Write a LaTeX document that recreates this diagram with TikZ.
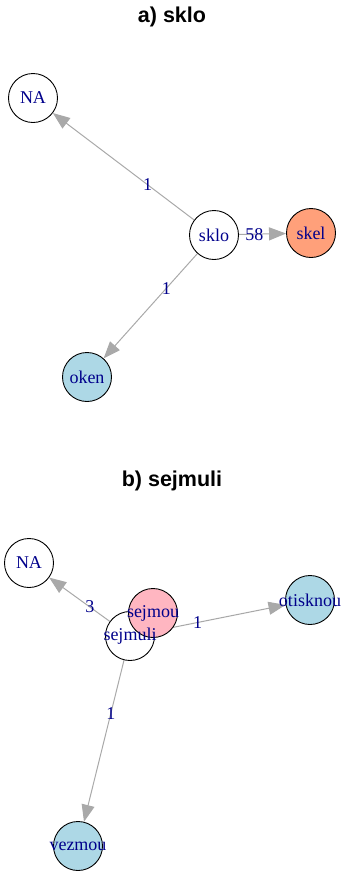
\documentclass[tikz,border=0pt]{standalone}
\usepackage{fontspec}
\setmainfont{Liberation Serif}
\newfontfamily\titlefont{Liberation Sans}
\usetikzlibrary{arrows.meta}

\definecolor{darkblue}{HTML}{00008B}
\definecolor{edgegray}{HTML}{A9A9A9}
\definecolor{lightsalmon}{HTML}{FFA07A}
\definecolor{lightblue}{HTML}{ADD8E6}
\definecolor{lightpink}{HTML}{FFB6C1}

\pgfdeclarelayer{bg}
\pgfsetlayers{bg,main}

\tikzset{
  vertex/.style={shape=circle, draw=black, line width=0.9pt, minimum size=49pt, inner sep=0pt},
  vtext/.style={text=darkblue, font=\fontsize{18}{18}\selectfont, inner sep=0pt},
  link/.style={color=edgegray, line width=1pt, -{Triangle[length=17pt,width=13pt]}},
  elabel/.style={text=darkblue, font=\fontsize{18}{18}\selectfont, inner sep=0pt, pos=0.33},
  heading/.style={font=\titlefont\bfseries\fontsize{21.5}{21.5}\selectfont}
}

\begin{document}
\begin{tikzpicture}[x=1pt, y=-1pt]
      \useasboundingbox (0,0) rectangle (343,871);

      % a) sklo
      \node[heading] (ta) at (172,17) {a) sklo};
      \node[vertex] (na1) at (33,98) {};
      \node[vertex] (sklo) at (214,235) {};
      \node[vertex, fill=lightsalmon] (skel) at (311,233) {};
      \node[vertex, fill=lightblue] (oken) at (87,377) {};

      \begin{pgfonlayer}{bg}
      \draw [link] (sklo) -- node[elabel] {1} (na1);
      \draw [link] (sklo) -- node[elabel] {58} (skel);
      \draw [link] (sklo) -- node[elabel] {1} (oken);
      \end{pgfonlayer}

      \node[vtext] (na1-l) at (na1) {NA};
      \node[vtext] (sklo-l) at (sklo) {sklo};
      \node[vtext] (skel-l) at (skel) {skel};
      \node[vtext] (oken-l) at (oken) {oken};

      % b) sejmuli
      \node[heading] (tb) at (172,481) {b) sejmuli};
      \node[vertex] (na2) at (29,563) {};
      \node[vertex] (sejmuli) at (130,636) {};
      \node[vertex, fill=lightpink] (sejmou) at (153,613) {};
      \node[vertex, fill=lightblue] (otisknou) at (310,600) {};
      \node[vertex, fill=lightblue] (vezmou) at (78,846) {};

      \begin{pgfonlayer}{bg}
      \draw [link] (sejmuli) -- node[elabel] {3} (na2);
      \draw [link] (sejmuli) -- node[elabel] {1} (otisknou);
      \draw [link] (sejmuli) -- node[elabel] {1} (vezmou);
      \end{pgfonlayer}

      \node[vtext] (na2-l) at (na2) {NA};
      \node[vtext] (sejmuli-l) at (sejmuli) {sejmuli};
      \node[vtext] (sejmou-l) at (sejmou) {sejmou};
      \node[vtext] (otisknou-l) at (otisknou) {otisknou};
      \node[vtext] (vezmou-l) at (vezmou) {vezmou};

      \end{tikzpicture}
\end{document}
